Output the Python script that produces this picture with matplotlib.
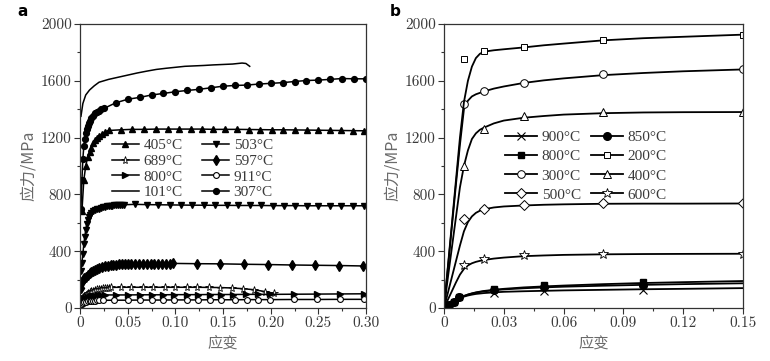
import matplotlib
matplotlib.use("Agg")
import matplotlib.pyplot as plt
from matplotlib.lines import Line2D
from matplotlib.ticker import MultipleLocator

SERIF = ['cmr10', 'DejaVu Serif']
LEGF = ['Liberation Serif', 'DejaVu Serif']
CJK = ['Noto Sans CJK SC', 'DejaVu Sans']
plt.rcParams['axes.formatter.use_mathtext'] = False

# ---------------- Panel a data (strain, stress MPa) ----------------
a_101_x = [0.001, 0.003, 0.006, 0.010, 0.015, 0.020, 0.030, 0.040, 0.050, 0.060, 0.070, 0.080,
           0.090, 0.100, 0.110, 0.120, 0.130, 0.140, 0.150, 0.160, 0.170, 0.174, 0.178]
a_101_y = [1350, 1440, 1500, 1535, 1565, 1590, 1610, 1625, 1640, 1655, 1668, 1680,
           1688, 1695, 1702, 1705, 1708, 1712, 1715, 1718, 1725, 1722, 1702]

a_307_x = [0.001, 0.002, 0.003, 0.004, 0.005, 0.006, 0.007, 0.008, 0.009, 0.010, 0.012, 0.014,
           0.016, 0.018, 0.020, 0.022, 0.025,
           0.0375, 0.050, 0.0625, 0.075, 0.0875, 0.100, 0.1125, 0.125, 0.1375, 0.150, 0.1625,
           0.175, 0.1875, 0.200, 0.2125, 0.225, 0.2375, 0.250, 0.2625, 0.275, 0.2875, 0.300]
a_307_y = [700, 900, 1050, 1140, 1190, 1230, 1260, 1285, 1305, 1320, 1340, 1355,
           1370, 1380, 1390, 1398, 1405,
           1445, 1470, 1483, 1500, 1511, 1523, 1532, 1540, 1551, 1562, 1567,
           1570, 1577, 1582, 1587, 1595, 1602, 1605, 1610, 1616, 1614, 1614]

a_405_x = [0.002, 0.004, 0.006, 0.008, 0.010, 0.012, 0.014, 0.016, 0.018, 0.020, 0.023, 0.026, 0.030,
           0.043, 0.055, 0.067, 0.080, 0.092, 0.104, 0.116, 0.128, 0.140, 0.152, 0.165,
           0.177, 0.189, 0.201, 0.213, 0.225, 0.238, 0.250, 0.262, 0.274, 0.286, 0.298]
a_405_y = [680, 900, 1000, 1060, 1100, 1130, 1160, 1180, 1195, 1210, 1225, 1240, 1250,
           1255, 1258, 1258, 1260, 1260, 1260, 1260, 1260, 1258, 1258, 1258,
           1257, 1256, 1255, 1255, 1254, 1253, 1252, 1251, 1250, 1249, 1248]

a_503_x = [0.001, 0.002, 0.003, 0.004, 0.005, 0.006, 0.007, 0.008, 0.009, 0.010, 0.012, 0.014,
           0.016, 0.018, 0.020, 0.022, 0.024, 0.026, 0.028, 0.030, 0.032, 0.034, 0.036, 0.038,
           0.040, 0.042, 0.044, 0.046,
           0.058, 0.070, 0.082, 0.094, 0.106, 0.118, 0.130, 0.142, 0.154, 0.166, 0.178,
           0.190, 0.202, 0.214, 0.226, 0.238, 0.250, 0.262, 0.274, 0.286, 0.298]
a_503_y = [260, 320, 380, 450, 500, 550, 590, 620, 640, 655, 670, 680,
           688, 695, 700, 705, 708, 712, 715, 717, 719, 720, 722, 723,
           724, 725, 726, 727,
           730, 728, 727, 726, 725, 724, 724, 723, 723, 722, 722,
           722, 721, 721, 721, 720, 720, 720, 720, 720, 720]

a_597_x = [0.001, 0.002, 0.003, 0.004, 0.006, 0.008, 0.010, 0.012, 0.014, 0.016, 0.018, 0.020,
           0.023, 0.026, 0.029, 0.032, 0.035, 0.038, 0.041, 0.044, 0.047, 0.050,
           0.054, 0.058, 0.062, 0.066, 0.070, 0.074, 0.078, 0.082, 0.086, 0.090, 0.094, 0.098,
           0.123, 0.147, 0.172, 0.197, 0.222, 0.246, 0.272, 0.297]
a_597_y = [140, 180, 200, 210, 220, 232, 243, 253, 262, 270, 277, 283,
           290, 295, 299, 302, 304, 306, 307, 308, 309, 310,
           310, 311, 311, 312, 312, 312, 313, 313, 313, 313, 313, 314,
           312, 311, 308, 306, 303, 301, 299, 296]

a_689_x = [0.001, 0.002, 0.003, 0.004, 0.006, 0.008, 0.010, 0.012, 0.014, 0.016, 0.018, 0.020,
           0.022, 0.024, 0.026, 0.028, 0.030, 0.033,
           0.043, 0.054, 0.066, 0.077, 0.089, 0.100, 0.112, 0.123, 0.135, 0.147, 0.159,
           0.171, 0.182, 0.194, 0.203]
a_689_y = [50, 65, 75, 85, 95, 105, 112, 118, 123, 127, 131, 134,
           137, 139, 141, 143, 144, 145,
           146, 146, 146, 146, 146, 146, 146, 146, 145, 144, 141,
           136, 129, 116, 104]

a_800_x = [0.001, 0.002, 0.003, 0.004, 0.006, 0.008, 0.010, 0.012, 0.014, 0.016, 0.019, 0.022, 0.026,
           0.038, 0.050, 0.063, 0.075, 0.087, 0.099, 0.112, 0.124, 0.136, 0.148, 0.161,
           0.174, 0.187, 0.199, 0.224, 0.249, 0.273, 0.298]
a_800_y = [30, 42, 52, 60, 68, 74, 79, 83, 86, 88, 90, 91, 92,
           92, 92, 93, 93, 93, 94, 94, 94, 95, 95, 95,
           96, 96, 96, 97, 98, 99, 100]

a_911_x = [0.001, 0.002, 0.003, 0.004, 0.006, 0.008, 0.010, 0.012, 0.014, 0.016, 0.018, 0.020,
           0.024, 0.036, 0.050, 0.063, 0.075, 0.087, 0.099, 0.112, 0.124, 0.136, 0.148,
           0.163, 0.175, 0.187, 0.199, 0.224, 0.249, 0.273, 0.298]
a_911_y = [25, 30, 35, 39, 43, 46, 48, 50, 51, 52, 53, 54,
           54, 55, 55, 56, 56, 56, 57, 57, 57, 58, 58,
           58, 59, 59, 59, 60, 60, 61, 61]

# ---------------- Panel b data ----------------
b_fit_x = [0, 0.002, 0.004, 0.006, 0.008, 0.010, 0.012, 0.014, 0.016, 0.018, 0.020, 0.025,
           0.030, 0.040, 0.050, 0.060, 0.080, 0.100, 0.120, 0.150]
b_fit_200 = [0, 300, 600, 900, 1200, 1450, 1600, 1700, 1760, 1790, 1805, 1815,
             1822, 1835, 1850, 1862, 1885, 1900, 1910, 1925]
b_fit_300 = [0, 290, 580, 870, 1150, 1400, 1460, 1490, 1505, 1515, 1525, 1545,
             1560, 1585, 1603, 1617, 1640, 1655, 1667, 1680]
b_fit_400 = [0, 220, 430, 640, 850, 1000, 1110, 1190, 1230, 1255, 1270, 1300,
             1320, 1340, 1352, 1362, 1372, 1377, 1379, 1380]
b_fit_500 = [0, 110, 220, 330, 440, 540, 605, 645, 670, 685, 695, 708,
             715, 722, 727, 730, 734, 735, 735, 736]
b_fit_600 = [0, 60, 120, 180, 235, 275, 300, 315, 325, 332, 338, 348,
             355, 365, 370, 374, 378, 380, 381, 382]
b_fit_800 = [0, 18, 35, 55, 72, 85, 95, 103, 110, 115, 120, 128,
             135, 145, 152, 158, 168, 176, 182, 190]
b_fit_850 = [0, 18, 36, 56, 72, 84, 94, 102, 108, 113, 117, 125,
             131, 139, 145, 150, 157, 163, 168, 174]
b_fit_900 = [0, 18, 35, 53, 68, 80, 88, 94, 99, 102, 105, 110,
             114, 118, 121, 124, 128, 132, 135, 140]

b_pts_x = [0.010, 0.020, 0.040, 0.080, 0.150]
b_pts_200 = [1750, 1810, 1835, 1890, 1925]
b_pts_300 = [1440, 1525, 1585, 1645, 1680]
b_pts_400 = [1000, 1262, 1352, 1382, 1380]
b_pts_500 = [625, 700, 722, 736, 736]
b_pts_600 = [300, 342, 370, 382, 382]

b_low_x = [0.0025, 0.005, 0.0075, 0.025, 0.050, 0.100]
b_pts_800 = [22, 42, 75, 135, 160, 182]
b_pts_850 = [18, 40, 78, 128, 150, 165]
b_x900_x = [0.025, 0.050, 0.100]
b_pts_900 = [108, 118, 125]

TICK_C = '#3a3a3a'
LAB_C = '#6a6a6a'

fig = plt.figure(figsize=(7.70, 3.61), dpi=100)
W, H = 770, 361
axa = fig.add_axes([80 / W, (H - 308) / H, 286 / W, 284 / H])
axb = fig.add_axes([444 / W, (H - 308) / H, 299 / W, 284 / H])


def style_axes(ax, xmax, xmaj, xmin, xlabels):
    ax.set_xlim(0, xmax)
    ax.set_ylim(0, 2000)
    ax.xaxis.set_major_locator(MultipleLocator(xmaj))
    ax.xaxis.set_minor_locator(MultipleLocator(xmin))
    ax.yaxis.set_major_locator(MultipleLocator(400))
    ax.yaxis.set_minor_locator(MultipleLocator(200))
    ax.set_xticks([i * xmaj for i in range(len(xlabels))])
    ax.set_xticklabels(xlabels)
    ax.tick_params(which='major', direction='out', length=4, width=0.8, color='#333333',
                   labelsize=11, labelcolor=TICK_C, pad=2)
    ax.tick_params(which='minor', direction='out', length=2.5, width=0.8, color='#333333')
    for lab in ax.get_xticklabels() + ax.get_yticklabels():
        lab.set_family(SERIF)
    for sp in ax.spines.values():
        sp.set_linewidth(0.9)
        sp.set_color('#333333')
    ax.set_xlabel('应变', family=CJK, fontsize=11, color=LAB_C, labelpad=3)
    ax.set_ylabel('应力/MPa', family=CJK, fontsize=11.5, color=LAB_C, labelpad=3)


# ---- Panel a ----
lw = 1.1
ms = 4.2
sa = [
    ('405°C', a_405_x, a_405_y, dict(marker='^', mfc='k', ms=ms + 0.6)),
    ('689°C', a_689_x, a_689_y, dict(marker='*', mfc='white', ms=ms + 1.5, mew=0.6)),
    ('800°C', a_800_x, a_800_y, dict(marker='>', mfc='k', ms=ms + 0.4)),
    ('101°C', a_101_x, a_101_y, dict(marker=None)),
    ('503°C', a_503_x, a_503_y, dict(marker='v', mfc='k', ms=ms + 0.6)),
    ('597°C', a_597_x, a_597_y, dict(marker='d', mfc='k', ms=ms + 1.2)),
    ('911°C', a_911_x, a_911_y, dict(marker='o', mfc='white', ms=ms, mew=0.8)),
    ('307°C', a_307_x, a_307_y, dict(marker='o', mfc='k', ms=ms)),
]
handles_a = []
for lab, xs, ys, kw in sa:
    h, = axa.plot(xs, ys, color='k', lw=lw, mec='k', label=lab, **kw)
    handles_a.append(h)

style_axes(axa, 0.30, 0.05, 0.025, ['0', '0.05', '0.10', '0.15', '0.20', '0.25', '0.30'])
leg_a = axa.legend(handles=handles_a, ncol=2, loc='upper left', bbox_to_anchor=(0.112, 0.596),
                   frameon=False, borderpad=0, borderaxespad=0, handlelength=1.75,
                   handletextpad=0.3, columnspacing=1.3, labelspacing=0.13,
                   prop={'family': LEGF, 'size': 11})
for t in leg_a.get_texts():
    t.set_color(TICK_C)

# ---- Panel b ----
msb = 5.5
fits = [
    ('900°C', b_fit_900, b_x900_x, b_pts_900, dict(marker='x', mfc='none', ms=msb, mew=0.8)),
    ('800°C', b_fit_800, b_low_x, b_pts_800, dict(marker='s', mfc='k', ms=msb - 0.5)),
    ('300°C', b_fit_300, b_pts_x, b_pts_300, dict(marker='o', mfc='white', ms=msb, mew=0.7)),
    ('500°C', b_fit_500, b_pts_x, b_pts_500, dict(marker='D', mfc='white', ms=msb - 0.6, mew=0.7)),
    ('850°C', b_fit_850, b_low_x, b_pts_850, dict(marker='o', mfc='k', ms=msb)),
    ('200°C', b_fit_200, b_pts_x, b_pts_200, dict(marker='s', mfc='white', ms=msb - 0.5, mew=0.7)),
    ('400°C', b_fit_400, b_pts_x, b_pts_400, dict(marker='^', mfc='white', ms=msb + 0.5, mew=0.7)),
    ('600°C', b_fit_600, b_pts_x, b_pts_600, dict(marker='*', mfc='white', ms=msb + 2, mew=0.6)),
]
handles_b = []
for lab, fy, px, py, kw in fits:
    axb.plot(b_fit_x, fy, color='k', lw=1.3)
    axb.plot(px, py, ls='none', mec='k', **kw)
    handles_b.append(Line2D([], [], color='k', lw=1.3, mec='k', label=lab, **kw))

style_axes(axb, 0.15, 0.03, 0.015, ['0', '0.03', '0.06', '0.09', '0.12', '0.15'])
leg_b = axb.legend(handles=handles_b, ncol=2, loc='upper left', bbox_to_anchor=(0.204, 0.625),
                   frameon=False, borderpad=0, borderaxespad=0, handlelength=2.1,
                   handletextpad=0.3, columnspacing=0.65, labelspacing=0.36,
                   prop={'family': LEGF, 'size': 11})
for t in leg_b.get_texts():
    t.set_color(TICK_C)

fig.text(17 / W, 1 - 16 / H, 'a', fontsize=11, fontweight='bold', family='DejaVu Sans')
fig.text(390 / W, 1 - 16 / H, 'b', fontsize=11, fontweight='bold', family='DejaVu Sans')

fig.savefig('out.png', dpi=100)
